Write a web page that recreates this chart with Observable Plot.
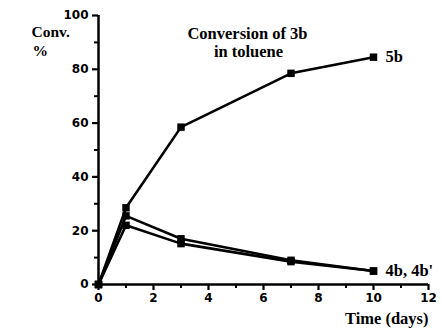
<!DOCTYPE html>
<html><head><meta charset="utf-8">
<script src="https://cdn.jsdelivr.net/npm/d3@7"></script>
<script src="https://cdn.jsdelivr.net/npm/@observablehq/plot@0.6"></script>
<style>body{margin:0;background:#fff}</style>
</head><body><div id="chart"></div>
<script>
const days = [0, 1, 3, 7, 10];
const conv5b = [0, 28.5, 58.5, 78.5, 84.5];
const conv4b = [0, 25.5, 17, 9, 5];
const conv4bp = [0, 22, 15.2, 8.5, 5];
const seriesNames = ["5b", "4b", "4b'"];
const xMajor = [0, 2, 4, 6, 8, 10, 12];
const xMinor = [1, 3, 5, 7, 9, 11];
const yMajor = [0, 20, 40, 60, 80, 100];
const yMinor = [10, 30, 50, 70, 90];
const seriesLabels = [{label: "5b", x: 10, y: 84.5}, {label: "4b, 4b'", x: 10, y: 5}];

const rows = [];
[conv5b, conv4b, conv4bp].forEach((vals, i) => days.forEach((d, j) => rows.push({series: seriesNames[i], day: d, conv: vals[j]})));

const serif = "'Liberation Serif', 'DejaVu Serif', serif";
const fs = 16.5;
const plot = Plot.plot({
  width: 441, height: 333,
  marginLeft: 98, marginRight: 13, marginTop: 15, marginBottom: 49,
  x: {domain: [0, 12]},
  y: {domain: [0, 100]},
  style: {fontFamily: "'DejaVu Sans', sans-serif", fontSize: "12px", fontWeight: "bold", color: "black", background: "white"},
  marks: [
    Plot.axisY({ticks: yMajor, tickSize: 6, tickPadding: 4, label: null, strokeWidth: 2.2}),
    Plot.axisY({ticks: yMinor, tickSize: 4, tickFormat: () => "", label: null, strokeWidth: 2}),
    Plot.axisX({ticks: xMajor, tickSize: 6, tickPadding: 3, label: null, strokeWidth: 2.2}),
    Plot.axisX({ticks: xMinor, tickSize: 4, tickFormat: () => "", label: null, strokeWidth: 2}),
    Plot.ruleX([0], {y1: 0, y2: 100, strokeWidth: 2.5}),
    Plot.ruleY([0], {x1: 0, x2: 12, strokeWidth: 2.5}),
    Plot.line(rows, {x: "day", y: "conv", z: "series", stroke: "black", strokeWidth: 2.6}),
    Plot.dot(rows, {x: "day", y: "conv", symbol: "square", fill: "black", r: 4.2}),
    Plot.text(seriesLabels, {x: "x", y: "y", text: "label", dx: 12, textAnchor: "start", fontFamily: serif, fontSize: fs, fontWeight: "bold"}),
    Plot.text(["Conversion of 3b"], {frameAnchor: "top", dx: -16, dy: 12, fontFamily: serif, fontSize: fs, fontWeight: "bold"}),
    Plot.text(["in toluene"], {frameAnchor: "top", dx: -15, dy: 30, fontFamily: serif, fontSize: fs, fontWeight: "bold"}),
    Plot.text(["Conv."], {frameAnchor: "top-left", dx: -67, dy: 10, fontFamily: serif, fontSize: 15.5, fontWeight: "bold"}),
    Plot.text(["%"], {frameAnchor: "top-left", dx: -66, dy: 29, fontFamily: serif, fontSize: 15.5, fontWeight: "bold"}),
    Plot.text(["Time (days)"], {frameAnchor: "bottom-right", textAnchor: "end", dx: 0, dy: 39, fontFamily: serif, fontSize: fs, fontWeight: "bold"})
  ]
});
document.getElementById("chart").appendChild(plot);
</script>
</body></html>
